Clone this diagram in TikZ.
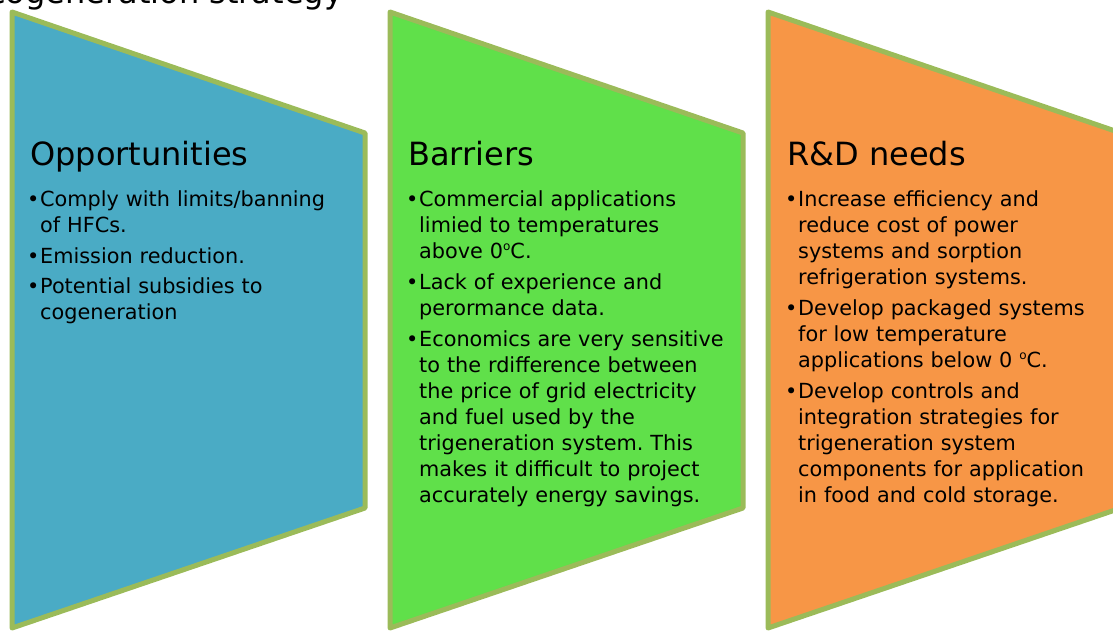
\documentclass[tikz,border=0pt]{standalone}
\usepackage{fontspec}
\setmainfont{DejaVu Sans}
\usetikzlibrary{positioning}
\frenchspacing

\definecolor{rimgreen}{HTML}{9BBB59}
\definecolor{oppblue}{HTML}{4AABC5}
\definecolor{barrgreen}{HTML}{60E04A}
\definecolor{rdorange}{HTML}{F79646}

% one bullet, lines broken as in the slide
\newcommand{\bitem}[1]{\noindent\makebox[13pt][l]{•}\begin{tabular}[t]{@{}l@{}}#1\end{tabular}\par}
\newcommand{\bgap}{\vspace{4pt}}
\newcommand{\degr}{\raisebox{7.5pt}{\fontsize{12}{12}\selectfont o}}

\begin{document}
\begin{tikzpicture}[x=1pt, y=-1pt,
    panel/.style={draw=rimgreen, line width=5pt, line join=round},
    head/.style={anchor=base west, inner sep=0pt, font=\fontsize{32}{36}\selectfont},
    body/.style={anchor=north west, inner sep=0pt, text width=380pt, align=left,
                 font=\fontsize{20.8}{26}\selectfont}]
    \useasboundingbox (0,0) rectangle (1113,630);
    \clip (0,0) rectangle (1113,630);

    \node[anchor=base west, inner sep=0pt, font=\fontsize{32}{36}\selectfont] (caption) at (-12,3.5) {cogeneration strategy};

    \foreach \i/\col in {0/oppblue, 1/barrgreen, 2/rdorange}
        \draw[panel, fill=\col, xshift=\i*378pt] (12,12) -- (365,133) -- (365,508) -- (12,628) -- cycle;

    \node[head] (opp) at (30,165) {Opportunities};
    \node[body] (oppList) at (27,188) {%
        \bitem{Comply with limits/banning\\of HFCs.}\bgap
        \bitem{Emission reduction.}\bgap
        \bitem{Potential subsidies to\\cogeneration}};

    \node[head] (barr) at (408,165) {Barriers};
    \node[body] (barrList) at (406,188) {%
        \bitem{Commercial applications\\limied to temperatures\\above 0\degr C.}\bgap
        \bitem{Lack of experience and\\perormance data.}\bgap
        \bitem{Economics are very sensitive\\to the rdifference between\\the price of grid electricity\\and fuel used by the\\trigeneration system. This\\makes it difficult to project\\accurately energy savings.}};

    \node[head] (rd) at (787,165) {R\&D needs};
    \node[body] (rdList) at (785,188) {%
        \bitem{Increase efficiency and\\reduce cost of power\\systems and sorption\\refrigeration systems.}\bgap
        \bitem{Develop packaged systems\\for low temperature\\applications below 0 \degr C.}\bgap
        \bitem{Develop controls and\\integration strategies for\\trigeneration system\\components for application\\in food and cold storage.}};
\end{tikzpicture}
\end{document}
